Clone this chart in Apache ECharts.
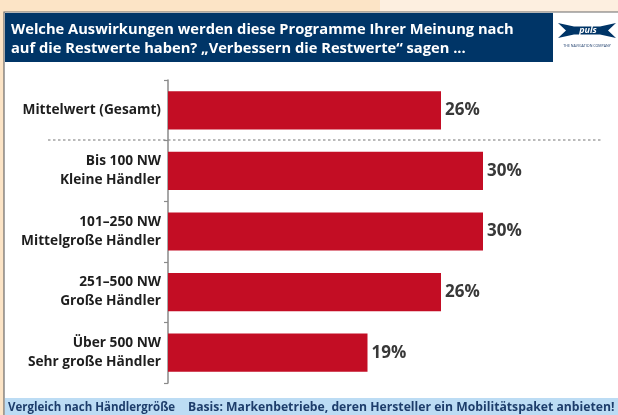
<!DOCTYPE html>
<html>
<head>
<meta charset="utf-8">
<script src="https://cdn.jsdelivr.net/npm/echarts@6/dist/echarts.min.js"></script>
<style>
  html, body { margin: 0; padding: 0; background: #fce4c6; }
  #chart { width: 618px; height: 415px; }
</style>
</head>
<body>
<div id="chart"></div>
<script>
// Händlergruppen (von oben nach unten)
const categories = [
  "Mittelwert (Gesamt)",
  "Bis 100 NW\nKleine Händler",
  "101–250 NW\nMittelgroße Händler",
  "251–500 NW\nGroße Händler",
  "Über 500 NW\nSehr große Händler",
];
// "Verbessern die Restwerte" in %
const values = [26, 30, 30, 26, 19];

const titleText =
  "Welche Auswirkungen werden diese Programme Ihrer Meinung nach\nauf die Restwerte haben? „Verbessern die Restwerte“ sagen ...";
const footLeft = "Vergleich nach Händlergröße";
const footRight = "Basis: Markenbetriebe, deren Hersteller ein Mobilitätspaket anbieten!";

const font = "'Open Sans', 'Noto Sans', sans-serif";
const navy = "#003567";
const red = "#c30d24";

const chart = echarts.init(document.getElementById("chart"));

const option = {
  backgroundColor: "#fce4c6",
  animation: false,
  title: {
    text: titleText,
    left: 6,
    top: 15,
    textStyle: {
      color: "#fff",
      fontFamily: font,
      fontWeight: "bold",
      fontSize: 14.7,
      lineHeight: 19,
    },
  },
  graphic: [
    // oberer heller Streifen rechts
    { type: "rect", z: -10, shape: { x: 380, y: 0, width: 238, height: 12 }, style: { fill: "#fdefe0" } },
    // weißes Feld mit Rahmen
    { type: "rect", z: -9, shape: { x: 4, y: 12, width: 620, height: 410 }, style: { fill: "#fff", stroke: "#6b6b6b", lineWidth: 1.2 } },
    // Titelbalken
    { type: "rect", z: -8, shape: { x: 5, y: 13, width: 548, height: 49 }, style: { fill: navy } },
    // Fußzeile
    { type: "rect", z: -8, shape: { x: 5, y: 398, width: 613, height: 17 }, style: { fill: "#bcdcf4" } },
    {
      type: "text", left: 8, top: 402,
      style: { text: footLeft, fill: "#1d3d6b", font: "bold 11.5px " + font },
    },
    {
      type: "text", left: 188, top: 402,
      style: { text: footRight, fill: "#1d3d6b", font: "bold 12.2px " + font },
    },
    // Trennlinie unter dem Mittelwert
    {
      type: "line",
      shape: { x1: 48, y1: 140, x2: 601, y2: 140 },
      style: { stroke: "#777", lineWidth: 1.2, lineDash: [2.5, 2.5] },
    },
    // Logo
    {
      type: "polygon",
      shape: {
        points: [[558, 23], [574, 26.5], [600, 26.5], [616, 23], [608, 30.5], [616, 38], [600, 34.5], [574, 34.5], [558, 38], [566, 30.5]],
      },
      style: { fill: navy },
    },
    {
      type: "text", x: 588, y: 30.5,
      style: { text: "puls", fill: "#fff", font: "italic bold 9px " + font, align: "center", verticalAlign: "middle" },
    },
    {
      type: "text", x: 587, y: 46,
      style: { text: "THE NAVIGATION COMPANY", fill: "#1d3d6b", font: "3.6px " + font, align: "center", verticalAlign: "middle" },
    },
  ],
  grid: { left: 168, right: 30, top: 80, bottom: 32 },
  xAxis: {
    type: "value",
    min: 0,
    max: 40,
    show: false,
  },
  yAxis: {
    type: "category",
    data: categories,
    inverse: true,
    axisLine: { lineStyle: { color: "#8a8a8a", width: 1.5 } },
    axisTick: { show: true, length: 4, lineStyle: { color: "#8a8a8a", width: 1.2 } },
    axisLabel: {
      margin: 7,
      color: "#1e1e1e",
      fontFamily: font,
      fontWeight: "bold",
      fontSize: 13.7,
      lineHeight: 19,
      align: "right",
    },
  },
  series: [
    {
      type: "bar",
      data: values,
      barWidth: "63%",
      itemStyle: { color: red },
      label: {
        show: true,
        position: "right",
        distance: 4,
        formatter: "{c}%",
        color: "#383838",
        fontFamily: font,
        fontWeight: "bold",
        fontSize: 17,
      },
    },
  ],
};

chart.setOption(option);
</script>
</body>
</html>
